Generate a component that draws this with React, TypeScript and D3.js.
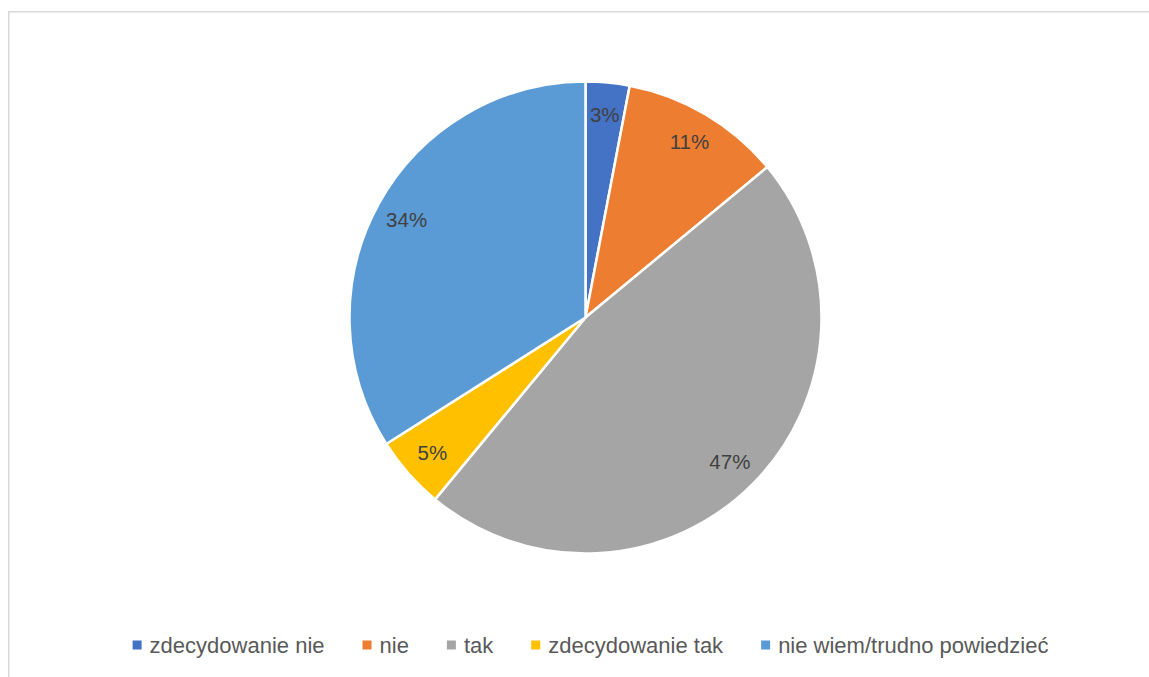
import React, { useEffect, useRef } from "react";
import * as d3 from "d3";

const categories = ["zdecydowanie nie", "nie", "tak", "zdecydowanie tak", "nie wiem/trudno powiedzieć"];
const values = [3, 11, 47, 5, 34];
const colors = ["#4472C4", "#ED7D31", "#A5A5A5", "#FFC000", "#5B9BD5"];

const W = 1149;
const H = 677;
const CX = 585.5;
const CY = 317.5;
const R = 236;
const FONT = "'Liberation Sans', Arial, sans-serif";

export default function App() {
  const ref = useRef<SVGSVGElement>(null);

  useEffect(() => {
    const svg = d3.select(ref.current);
    svg.selectAll("*").remove();

    svg
      .append("rect")
      .attr("x", 8.75)
      .attr("y", 11.75)
      .attr("width", 1300)
      .attr("height", 800)
      .attr("fill", "#fff")
      .attr("stroke", "#d9d9d9")
      .attr("stroke-width", 1.5);

    const data = categories.map((c, i) => ({ c, v: values[i], color: colors[i] }));
    const pie = d3.pie<any>().value((d) => d.v).sort(null);
    const arcs = pie(data);
    const arc = d3.arc<any>().innerRadius(0).outerRadius(R);
    const labelArc = d3.arc<any>().innerRadius(R * 0.865).outerRadius(R * 0.865);

    const g = svg.append("g").attr("transform", `translate(${CX},${CY})`);
    g.selectAll("path")
      .data(arcs)
      .join("path")
      .attr("d", arc)
      .attr("fill", (d: any) => d.data.color)
      .attr("stroke", "#fff")
      .attr("stroke-width", 2.5)
      .attr("stroke-linejoin", "round");

    g.selectAll("text")
      .data(arcs)
      .join("text")
      .attr("transform", (d: any) => `translate(${labelArc.centroid(d)})`)
      .attr("text-anchor", "middle")
      .attr("dominant-baseline", "central")
      .attr("font-family", FONT)
      .attr("font-size", 20.5)
      .attr("fill", "#404040")
      .text((d: any) => `${d.data.v}%`);

    // legend
    const lg = svg.append("g");
    const fs = 22;
    const sq = 9;
    const sqGap = 8;
    const itemGap = 38;
    const items = data.map((d) => {
      const t = lg
        .append("text")
        .attr("font-family", FONT)
        .attr("font-size", fs)
        .attr("fill", "#595959")
        .attr("y", 652.5)
        .text(d.c);
      const w = (t.node() as SVGTextElement).getComputedTextLength();
      return { d, t, w };
    });
    const total = items.reduce((s, it) => s + sq + sqGap + it.w, 0) + itemGap * (items.length - 1);
    let x = 590.5 - total / 2;
    items.forEach((it) => {
      lg.append("rect")
        .attr("x", x)
        .attr("y", 640.5)
        .attr("width", sq)
        .attr("height", sq)
        .attr("fill", it.d.color);
      it.t.attr("x", x + sq + sqGap);
      x += sq + sqGap + it.w + itemGap;
    });
  }, []);

  return (
    <svg
      ref={ref}
      width={W}
      height={H}
      style={{ position: "absolute", left: 0, top: 0, background: "#fff" }}
    />
  );
}
